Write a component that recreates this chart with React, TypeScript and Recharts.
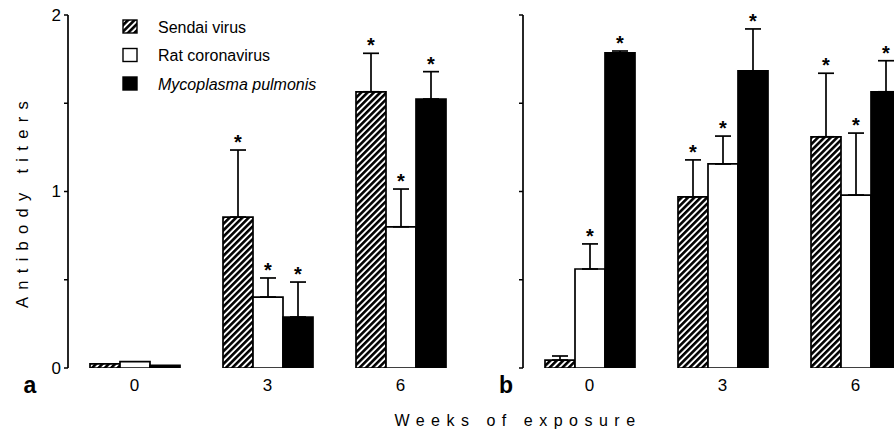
import React from 'react';
import { BarChart, Bar, XAxis, YAxis, ErrorBar } from 'recharts';

const weeks = ['0', '3', '6'];

// Panel a
const sendaiA = [0.023, 0.855, 1.565];
const sendaiErrA = [null, 0.38, 0.218];
const sendaiSigA = [false, true, true];
const ratA = [0.036, 0.402, 0.8];
const ratErrA = [null, 0.108, 0.214];
const ratSigA = [false, true, true];
const mycoA = [0.015, 0.289, 1.524];
const mycoErrA = [null, 0.198, 0.155];
const mycoSigA = [false, true, true];

// Panel b
const sendaiB = [0.045, 0.969, 1.31];
const sendaiErrB = [0.023, 0.21, 0.36];
const sendaiSigB = [false, true, true];
const ratB = [0.561, 1.156, 0.98];
const ratErrB = [0.142, 0.158, 0.351];
const ratSigB = [true, true, true];
const mycoB = [1.785, 1.683, 1.565];
const mycoErrB = [0.011, 0.238, 0.176];
const mycoSigB = [true, true, true];

const yTicks = [0, 0.5, 1, 1.5, 2];
const yLabelled = [0, 1, 2];

const legendItems = ['Sendai virus', 'Rat coronavirus', 'Mycoplasma pulmonis'];
const yTitle = 'Antibody titers';
const xTitle = 'Weeks of exposure';

const FONT = '"Liberation Sans", Arial, Helvetica, sans-serif';

const errPair = (e: number | null) => (e == null ? null : [0, e]);

function build(s: number[], se: (number | null)[], r: number[], re: (number | null)[], m: number[], me: (number | null)[]) {
  return weeks.map((w, i) => ({
    week: w,
    sendai: s[i],
    sendaiErr: errPair(se[i]),
    rat: r[i],
    ratErr: errPair(re[i]),
    myco: m[i],
    mycoErr: errPair(me[i]),
  }));
}

const dataA = build(sendaiA, sendaiErrA, ratA, ratErrA, mycoA, mycoErrA);
const dataB = build(sendaiB, sendaiErrB, ratB, ratErrB, mycoB, mycoErrB);

const XTick = (props: any) => {
  const { x, y, payload } = props;
  return (
    <text x={x} y={y + 17} textAnchor="middle" dominantBaseline="central" fontFamily={FONT} fontSize={17} fill="#000">
      {payload.value}
    </text>
  );
};

const makeYTick = (show: boolean) => (props: any) => {
  const { x, y, payload } = props;
  if (!show || !yLabelled.includes(payload.value)) return <g />;
  return (
    <text x={x} y={y} textAnchor="end" dominantBaseline="central" fontFamily={FONT} fontSize={17} fill="#000">
      {payload.value}
    </text>
  );
};

const makeStar = (vals: number[], errs: (number | null)[], sig: boolean[]) => (props: any) => {
  const { x, y, width, height, index } = props;
  if (index == null || !sig[index]) return <g />;
  const v = vals[index];
  const e = errs[index] || 0;
  const pxPerUnit = v > 0 ? height / v : 0;
  const top = y - e * pxPerUnit;
  return (
    <text x={x + width / 2} y={top - 1} textAnchor="middle" fontFamily={FONT} fontSize={20} fontWeight="bold" fill="#000">
      *
    </text>
  );
};

const Hatch = ({ id }: { id: string }) => (
  <defs>
    <pattern id={id} width="4.5" height="4.5" patternUnits="userSpaceOnUse" patternTransform="rotate(45)">
      <rect width="4.5" height="4.5" fill="#fff" />
      <line x1="1.3" y1="0" x2="1.3" y2="4.5" stroke="#000" strokeWidth="2.6" />
    </pattern>
  </defs>
);

type PanelProps = {
  data: any[];
  hatchId: string;
  yWidth: number;
  width: number;
  right: number;
  showLabels: boolean;
  vals: { s: number[]; se: (number | null)[]; ss: boolean[]; r: number[]; re: (number | null)[]; rs: boolean[]; m: number[]; me: (number | null)[]; ms: boolean[] };
};

const Panel = ({ data, hatchId, yWidth, width, right, showLabels, vals }: PanelProps) => (
  <BarChart width={width} height={436} data={data} margin={{ top: 15, right, bottom: 38, left: 0 }} barGap={0} barSize={30}>
    <Hatch id={hatchId} />
    <XAxis dataKey="week" axisLine={false} tickLine={false} tickSize={0} tickMargin={0} height={30} interval={0} tick={XTick} />
    <YAxis
      type="number"
      domain={[0, 2]}
      ticks={yTicks}
      allowDataOverflow
      width={yWidth}
      axisLine={{ stroke: '#000', strokeWidth: 1.7 }}
      tickLine={{ stroke: '#000', strokeWidth: 1.5 }}
      tickSize={4}
      tickMargin={3}
      tick={makeYTick(showLabels)}
    />
    <Bar dataKey="sendai" fill={`url(#${hatchId})`} stroke="#000" strokeWidth={1.7} isAnimationActive={false} label={makeStar(vals.s, vals.se, vals.ss)}>
      <ErrorBar dataKey="sendaiErr" direction="y" width={8} stroke="#000" strokeWidth={1.7} />
    </Bar>
    <Bar dataKey="rat" fill="#fff" stroke="#000" strokeWidth={1.7} isAnimationActive={false} label={makeStar(vals.r, vals.re, vals.rs)}>
      <ErrorBar dataKey="ratErr" direction="y" width={8} stroke="#000" strokeWidth={1.7} />
    </Bar>
    <Bar dataKey="myco" fill="#000" stroke="#000" strokeWidth={1.7} isAnimationActive={false} label={makeStar(vals.m, vals.me, vals.ms)}>
      <ErrorBar dataKey="mycoErr" direction="y" width={8} stroke="#000" strokeWidth={1.7} />
    </Bar>
  </BarChart>
);

export default function App() {
  const legendFills = ['url(#hatchLegend)', '#fff', '#000'];
  return (
    <div style={{ position: 'absolute', left: 0, top: 0, width: 894, height: 436, overflow: 'hidden', background: '#fff' }}>
      <div style={{ position: 'absolute', left: 0, top: 0 }}>
        <Panel
          data={dataA}
          hatchId="hatchA"
          yWidth={68}
          width={480}
          right={13}
          showLabels
          vals={{ s: sendaiA, se: sendaiErrA, ss: sendaiSigA, r: ratA, re: ratErrA, rs: ratSigA, m: mycoA, me: mycoErrA, ms: mycoSigA }}
        />
      </div>
      <div style={{ position: 'absolute', left: 470, top: 0 }}>
        <Panel
          data={dataB}
          hatchId="hatchB"
          yWidth={53}
          width={470}
          right={18}
          showLabels={false}
          vals={{ s: sendaiB, se: sendaiErrB, ss: sendaiSigB, r: ratB, re: ratErrB, rs: ratSigB, m: mycoB, me: mycoErrB, ms: mycoSigB }}
        />
      </div>
      <svg width={894} height={436} style={{ position: 'absolute', left: 0, top: 0, pointerEvents: 'none' }}>
        <Hatch id="hatchLegend" />
        {legendItems.map((t, i) => (
          <g key={t}>
            <rect x={123} y={20 + i * 28.5} width={14} height={13} fill={legendFills[i]} stroke="#000" strokeWidth={1.4} />
            <text
              x={158}
              y={27 + i * 28.5}
              dominantBaseline="central"
              fontFamily={FONT}
              fontSize={16}
              fontStyle={i === 2 ? 'italic' : 'normal'}
              fill="#000"
            >
              {t}
            </text>
          </g>
        ))}
        <text
          transform="translate(22,201) rotate(-90)"
          textAnchor="middle"
          dominantBaseline="central"
          fontFamily={FONT}
          fontSize={16.5}
          letterSpacing={7.3}
          fill="#000"
        >
          {yTitle}
        </text>
        <text x={518} y={420} textAnchor="middle" dominantBaseline="central" fontFamily={FONT} fontSize={16} letterSpacing={6.5} fill="#000">
          {xTitle}
        </text>
        <text x={30} y={385} textAnchor="middle" dominantBaseline="central" fontFamily={FONT} fontSize={23} fontWeight="bold" fill="#000">
          a
        </text>
        <text x={506} y={385} textAnchor="middle" dominantBaseline="central" fontFamily={FONT} fontSize={23} fontWeight="bold" fill="#000">
          b
        </text>
      </svg>
    </div>
  );
}
